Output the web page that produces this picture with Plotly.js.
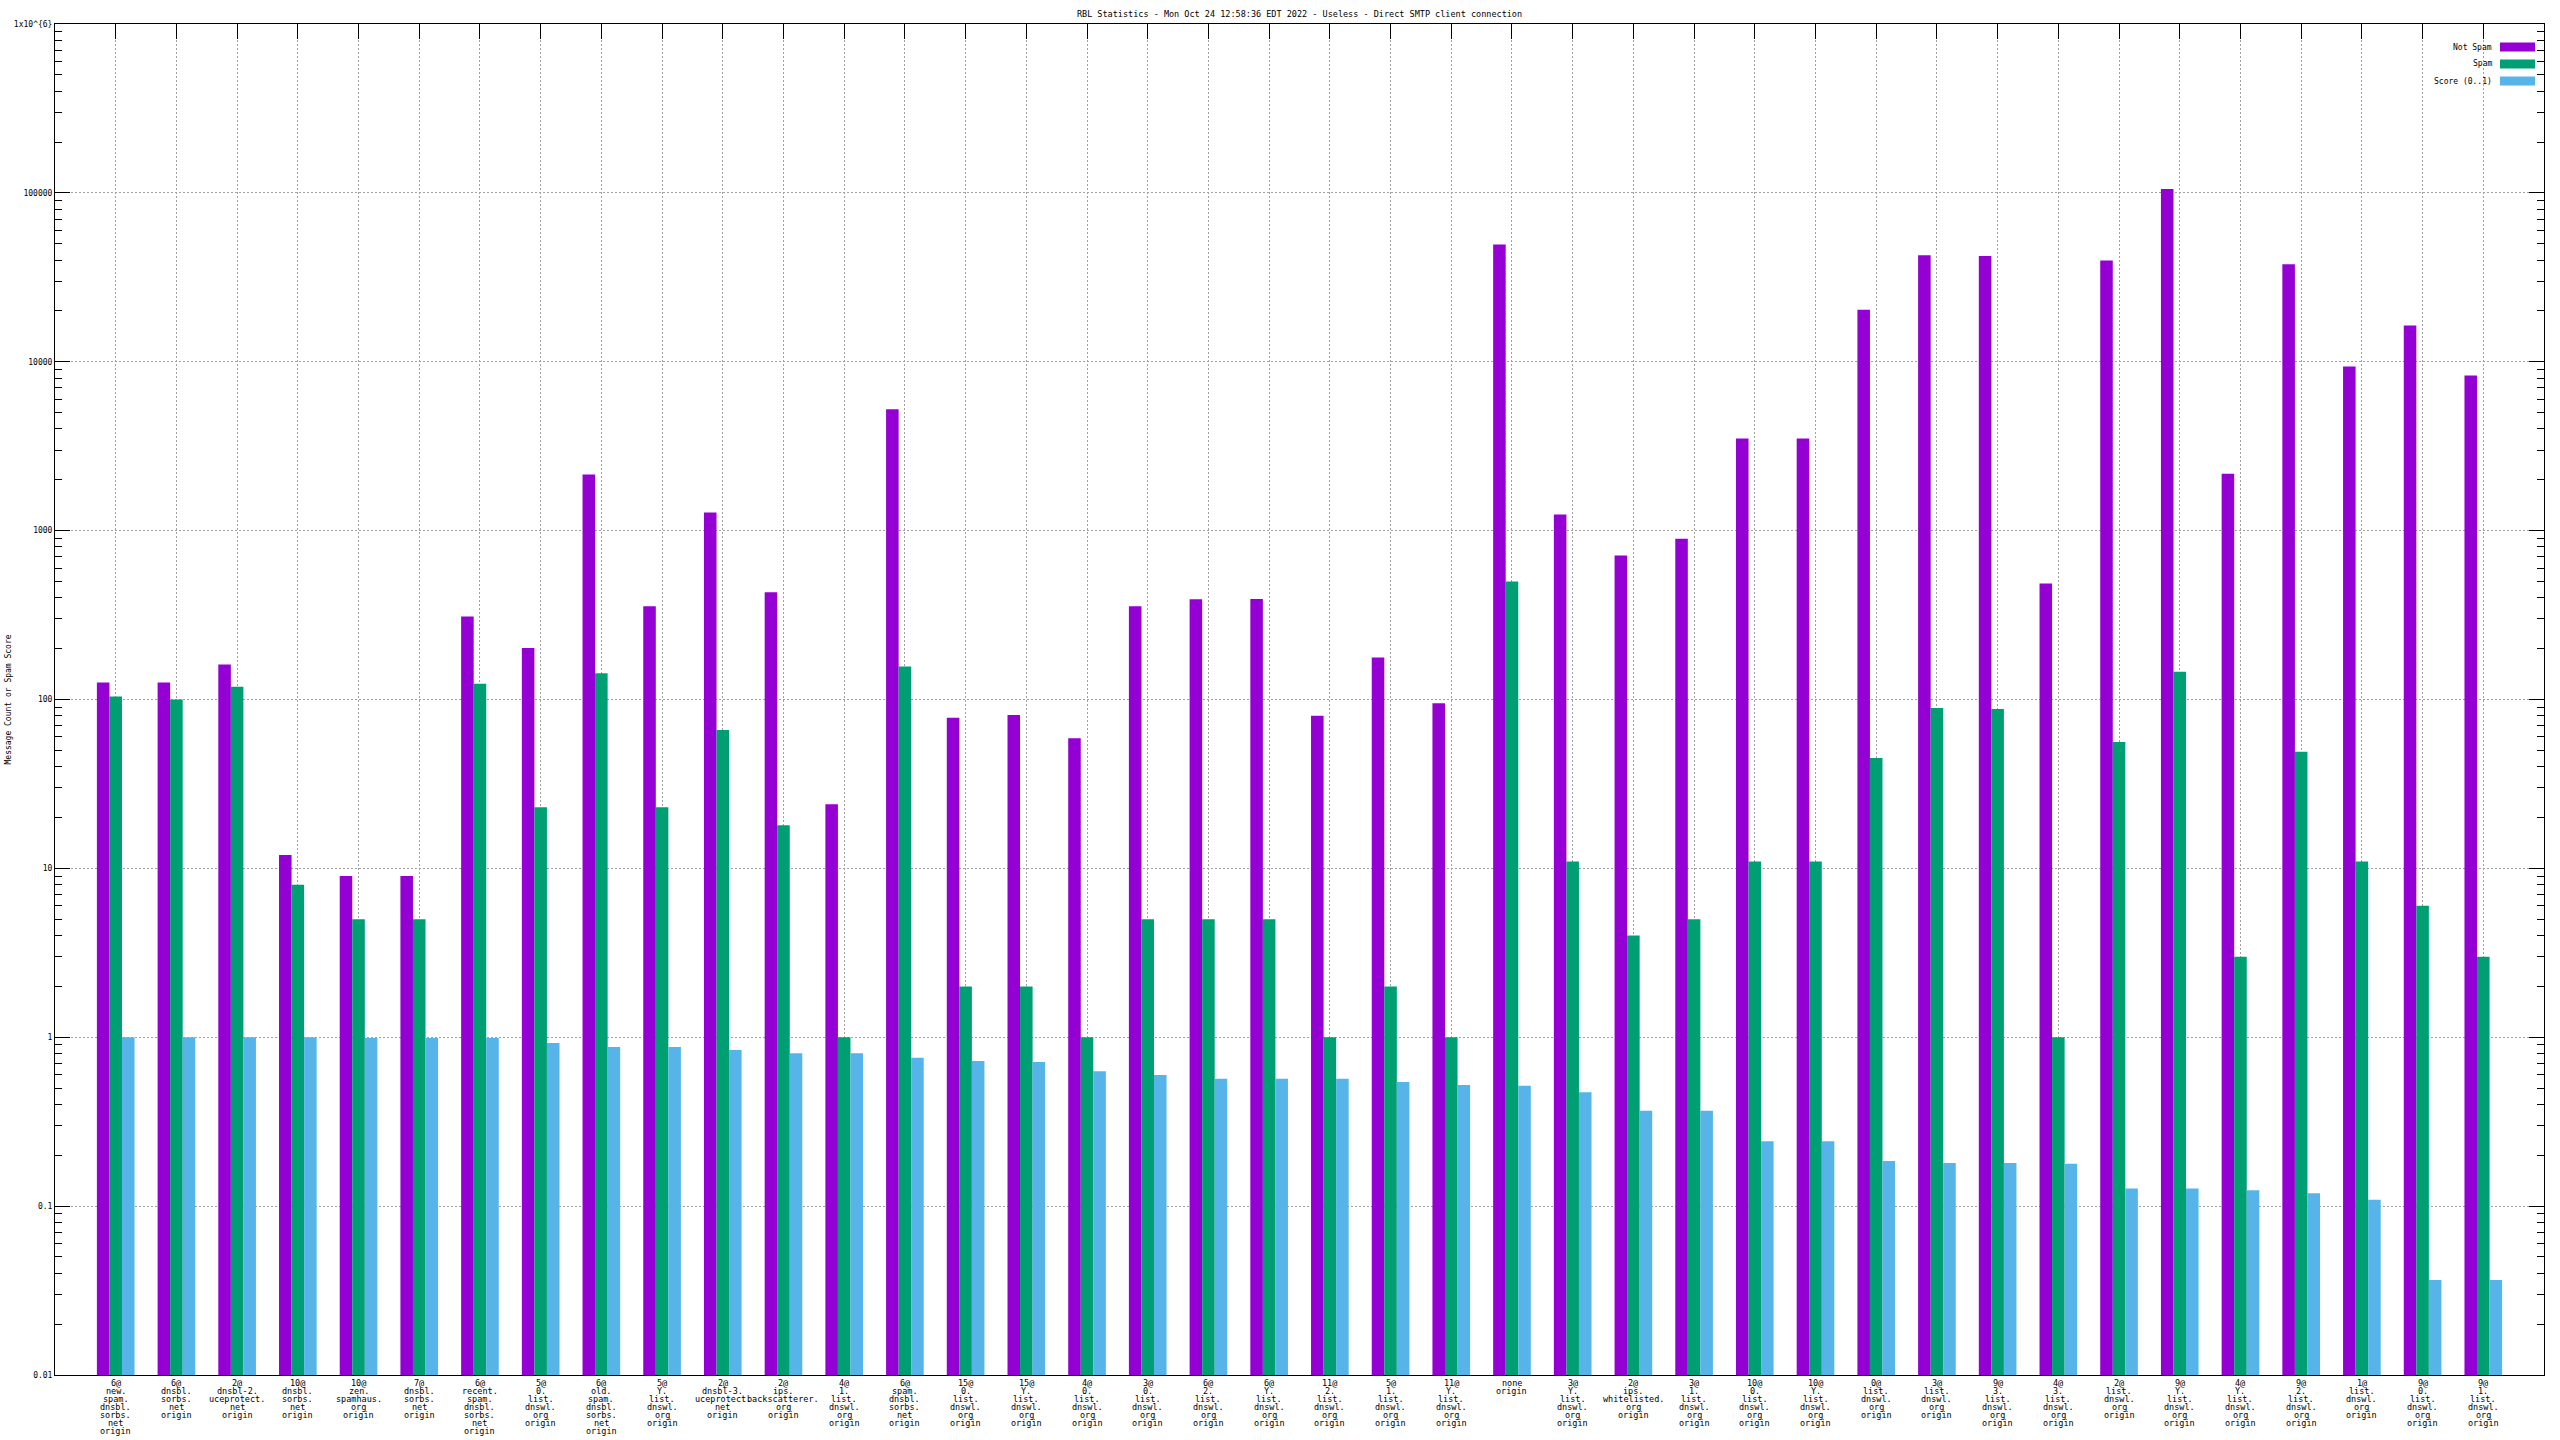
<!DOCTYPE html>
<html>
<head>
<meta charset="utf-8">
<script src="https://cdn.plot.ly/plotly-3.0.1.min.js"></script>
<style>
  html, body { margin: 0; padding: 0; background: #fff; }
  #chart { width: 2560px; height: 1440px; }
</style>
</head>
<body>
<div id="chart"></div>
<script>
// ---- data ----
const categories = [
  "6@ new. spam. dnsbl. sorbs. net origin",
  "6@ dnsbl. sorbs. net origin",
  "2@ dnsbl-2. uceprotect. net origin",
  "10@ dnsbl. sorbs. net origin",
  "10@ zen. spamhaus. org origin",
  "7@ dnsbl. sorbs. net origin",
  "6@ recent. spam. dnsbl. sorbs. net origin",
  "5@ 0. list. dnswl. org origin",
  "6@ old. spam. dnsbl. sorbs. net origin",
  "5@ Y. list. dnswl. org origin",
  "2@ dnsbl-3. uceprotect. net origin",
  "2@ ips. backscatterer. org origin",
  "4@ 1. list. dnswl. org origin",
  "6@ spam. dnsbl. sorbs. net origin",
  "15@ 0. list. dnswl. org origin",
  "15@ Y. list. dnswl. org origin",
  "4@ 0. list. dnswl. org origin",
  "3@ 0. list. dnswl. org origin",
  "6@ 2. list. dnswl. org origin",
  "6@ Y. list. dnswl. org origin",
  "11@ 2. list. dnswl. org origin",
  "5@ 1. list. dnswl. org origin",
  "11@ Y. list. dnswl. org origin",
  "none origin",
  "3@ Y. list. dnswl. org origin",
  "2@ ips. whitelisted. org origin",
  "3@ 1. list. dnswl. org origin",
  "10@ 0. list. dnswl. org origin",
  "10@ Y. list. dnswl. org origin",
  "0@ list. dnswl. org origin",
  "3@ list. dnswl. org origin",
  "9@ 3. list. dnswl. org origin",
  "4@ 3. list. dnswl. org origin",
  "2@ list. dnswl. org origin",
  "9@ Y. list. dnswl. org origin",
  "4@ Y. list. dnswl. org origin",
  "9@ 2. list. dnswl. org origin",
  "1@ list. dnswl. org origin",
  "9@ 0. list. dnswl. org origin",
  "9@ 1. list. dnswl. org origin"
];

const notSpam = [126, 126, 161, 12, 9, 9, 310, 202, 2153, 356,
                 1279, 431, 24, 5236, 78, 81, 59, 356, 392, 394,
                 80, 177, 95, 49400, 1245, 713, 895, 3506, 3506, 20340,
                 42650, 42300, 486, 39750, 105400, 2173, 37740, 9380, 16370, 8300];

const spam = [104, 100, 119, 8, 5, 5, 124, 23, 143, 23,
              66, 18, 1, 157, 2, 2, 1, 5, 5, 5,
              1, 2, 1, 499, 11, 4, 5, 11, 11, 45,
              89, 88, 1, 56, 146, 3, 49, 11, 6, 3];

const score = [1.0, 1.0, 1.0, 1.0, 0.99, 0.99, 0.99, 0.925, 0.877, 0.877,
               0.84, 0.805, 0.805, 0.757, 0.724, 0.713, 0.63, 0.598, 0.568, 0.568,
               0.568, 0.544, 0.521, 0.517, 0.473, 0.367, 0.367, 0.242, 0.242, 0.185,
               0.18, 0.18, 0.178, 0.127, 0.127, 0.124, 0.119, 0.109, 0.0365, 0.0365];

const seriesNames = ["Not Spam", "Spam", "Score (0..1)"];
const seriesColors = ["#9400D3", "#009E73", "#56B4E9"];

const yTickVals = [0.01, 0.1, 1, 10, 100, 1000, 10000, 100000, 1000000];
const yTickText = ["0.01", "0.1", "1", "10", "100", "1000", "10000", "100000", "1x10^{6}"];

const titleText = "RBL Statistics - Mon Oct 24 12:58:36 EDT 2022 - Useless - Direct SMTP client connection";
const yTitleText = "Message Count or Spam Score";

// ---- build ----
const W = 2560, H = 1440;
const M = { l: 55, r: 16, t: 24, b: 65 };
const PW = W - M.l - M.r, PH = H - M.t - M.b;
const px2x = p => (p - M.l) / PW;
const px2y = p => (H - M.b - p) / PH;

const xIdx = categories.map((_, i) => i);

const FONT = "DejaVu Sans Mono, Liberation Mono, monospace";

const data = [notSpam, spam, score].map((vals, k) => ({
  type: "bar",
  x: xIdx,
  y: vals,
  name: seriesNames[k],
  marker: { color: seriesColors[k], line: { width: 0 } },
  hoverinfo: "x+y+name",
  showlegend: false
}));

// minor log ticks (layout decoration)
const minorVals = [];
for (let d = -2; d < 6; d++) {
  for (let m = 2; m <= 9; m++) minorVals.push(m * Math.pow(10, d));
}

const annotations = [];
const shapes = [];

// category labels: one text per line, tight line spacing like gnuplot
const LABEL_TOP = 1383, LABEL_STEP = 8;
categories.forEach((c, i) => {
  c.split(" ").forEach((line, j) => {
    annotations.push({
      xref: "x", yref: "paper",
      x: i, y: px2y(LABEL_TOP + LABEL_STEP * j),
      xanchor: "center", yanchor: "middle",
      text: line, showarrow: false,
      font: { family: FONT, size: 8.5, color: "#000" }
    });
  });
});

// custom legend (text left of swatch, like gnuplot)
const legendRowsPx = [47, 64, 81];
seriesNames.forEach((n, k) => {
  annotations.push({
    xref: "paper", yref: "paper",
    x: px2x(2494), y: px2y(legendRowsPx[k]),
    xanchor: "right", yanchor: "middle",
    text: n, showarrow: false,
    font: { family: FONT, size: 8, color: "#000" }
  });
  shapes.push({
    type: "rect", xref: "paper", yref: "paper",
    x0: px2x(2500), x1: px2x(2535),
    y0: px2y(legendRowsPx[k] - 4.5), y1: px2y(legendRowsPx[k] + 4.5),
    fillcolor: seriesColors[k], line: { width: 0 }
  });
});

annotations.push({
  xref: "paper", yref: "paper",
  x: px2x(8), y: 0.5,
  xanchor: "center", yanchor: "middle",
  textangle: -90,
  text: yTitleText, showarrow: false,
  font: { family: FONT, size: 8, color: "#000" }
});

const layout = {
  width: W, height: H,
  margin: M,
  paper_bgcolor: "#fff",
  plot_bgcolor: "#fff",
  font: { family: FONT, size: 8, color: "#000" },
  title: {
    text: titleText,
    font: { family: FONT, size: 8.5, color: "#000" },
    x: 0.5, xref: "paper",
    y: 1 - 14.5 / H, yref: "container", yanchor: "middle"
  },
  barmode: "group",
  bargap: 0.38,
  bargroupgap: 0,
  showlegend: false,
  xaxis: {
    range: [-1, categories.length],
    tickmode: "array",
    tickvals: xIdx,
    showticklabels: false,
    automargin: false,
    ticks: "inside",
    ticklen: 15,
    tickwidth: 1,
    tickcolor: "#000",
    showline: true,
    linecolor: "#000",
    linewidth: 1,
    mirror: "ticks",
    showgrid: true,
    gridcolor: "#a0a0a0",
    griddash: "2px,2px",
    gridwidth: 1,
    zeroline: false,
    layer: "below traces",
    fixedrange: true
  },
  yaxis: {
    type: "log",
    range: [-2, 6],
    tickmode: "array",
    tickvals: yTickVals,
    ticktext: yTickText,
    automargin: false,
    ticks: "inside",
    ticklen: 15,
    tickwidth: 1,
    tickcolor: "#000",
    showline: true,
    linecolor: "#000",
    linewidth: 1,
    mirror: "ticks",
    showgrid: true,
    gridcolor: "#a0a0a0",
    griddash: "2px,2px",
    gridwidth: 1,
    zeroline: false,
    tickfont: { family: FONT, size: 8, color: "#000" },
    minor: {
      tickmode: "array",
      tickvals: minorVals,
      ticks: "inside",
      ticklen: 7,
      tickwidth: 1,
      tickcolor: "#000",
      showgrid: false
    },
    fixedrange: true
  },
  annotations: annotations,
  shapes: shapes
};

Plotly.newPlot("chart", data, layout, { displayModeBar: false, staticPlot: true });
</script>
</body>
</html>
